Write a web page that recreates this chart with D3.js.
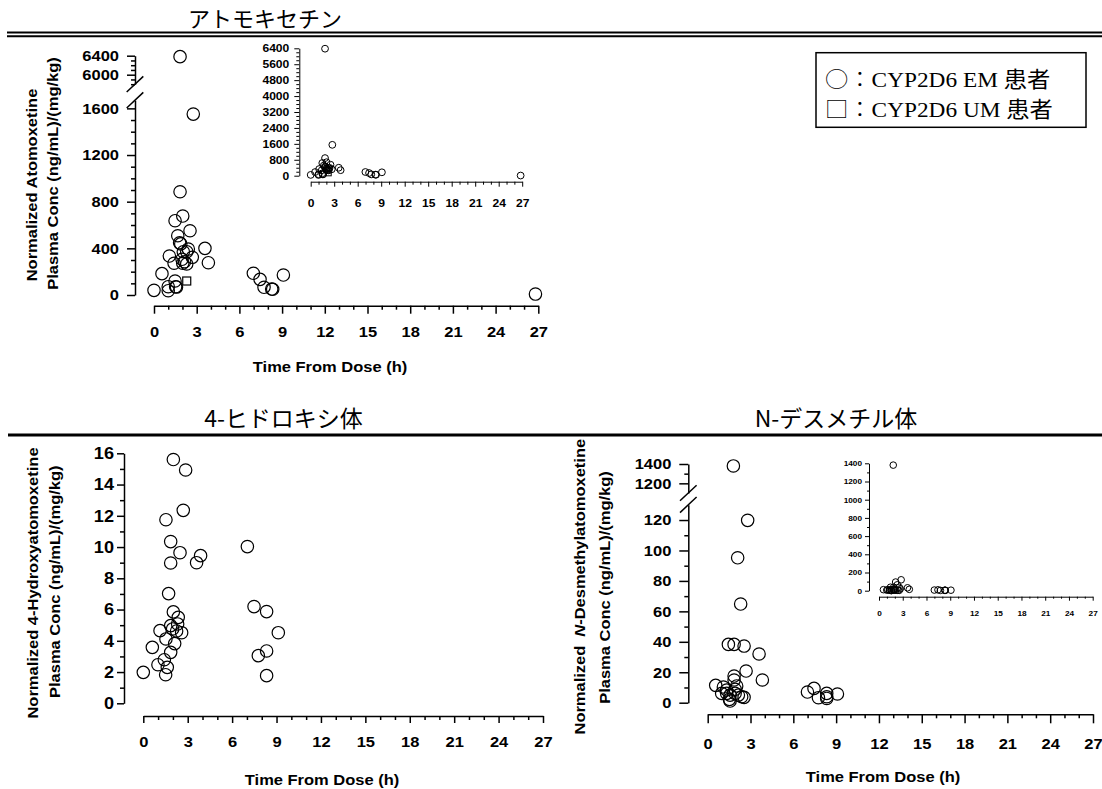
<!DOCTYPE html>
<html>
<head>
<meta charset="utf-8">
<script src="https://cdn.jsdelivr.net/npm/d3@7"></script>
<style>
body { margin: 0; background: #fff; }
svg { display: block; }
</style>
</head>
<body>
<svg width="1102" height="789"></svg>
<script>
// atomoxetine, CYP2D6 EM patients (time h, normalized conc)
var atoTime = [1.83, 2.76, 1.83, 2.02, 1.48, 2.53, 1.67, 1.80, 1.88, 3.58, 2.41, 2.30, 2.06, 1.08, 2.69, 1.97,
  2.15, 1.41, 3.82, 2.30, 2.02, 0.56, 1.48, 1.00, 1.52, 1.58, 0.00, 1.00, 6.98, 7.45, 7.73, 8.27, 8.34, 9.09, 26.8];
var atoConc = [6380, 1551, 885, 677, 637, 551, 508, 448, 438, 400, 394, 371, 371, 334, 323, 306,
  285, 272, 277, 266, 272, 183, 120, 71, 71, 68, 40, 37, 186, 134, 66, 51, 49, 171, 8];
// atomoxetine, CYP2D6 UM patient
var atoUmTime = [2.30];
var atoUmConc = [120];

// 4-hydroxyatomoxetine
var hydTime = [2.03, 2.86, 2.70, 1.53, 1.85, 2.48, 1.85, 3.60, 3.87, 7.03, 1.71, 2.03, 2.36, 2.32, 1.85, 1.98,
  2.25, 2.59, 1.13, 1.53, 2.12, 0.61, 1.85, 1.42, 0.99, 1.62, 1.51, 0.00, 7.48, 8.33, 9.12, 8.33, 7.77, 8.33];
var hydConc = [15.6, 14.93, 12.35, 11.75, 10.35, 9.64, 8.98, 9.0, 9.45, 10.03, 7.02, 5.85, 5.5, 5.08, 4.97, 4.76,
  4.63, 4.52, 4.65, 4.12, 3.82, 3.58, 3.26, 2.79, 2.47, 2.30, 1.83, 1.98, 6.19, 5.87, 4.52, 3.35, 3.05, 1.77];

// N-desmethylatomoxetine
var desTime = [1.80, 2.80, 2.10, 2.31, 1.45, 1.85, 2.55, 3.60, 2.69, 3.83, 1.85, 1.85, 0.56, 1.10, 2.03, 0.98,
  1.33, 1.57, 1.92, 2.15, 2.38, 2.55, 1.52, 1.57, 1.33, 1.92, 6.99, 7.45, 7.76, 8.34, 8.34, 8.34, 9.09];
var desConc = [1380, 119.8, 95.2, 64.8, 38.3, 38.3, 37.2, 32.0, 20.8, 14.9, 17.5, 14.9, 11.4, 10.3, 11.0, 6.1,
  6.1, 5.0, 6.1, 5.0, 3.9, 3.5, 2.2, 1.1, 8.3, 8.8, 7.0, 9.4, 3.3, 6.1, 3.9, 2.8, 5.7];

// tick values
var timeTicks = [0, 3, 6, 9, 12, 15, 18, 21, 24, 27];
var timeMinor = [1, 2, 4, 5, 7, 8, 10, 11, 13, 14, 16, 17, 19, 20, 22, 23, 25, 26];
var atoTicksLow = [0, 400, 800, 1200, 1600];
var atoMinorLow = [100, 200, 300, 500, 600, 700, 900, 1000, 1100, 1300, 1400, 1500];
var atoTicksHigh = [6000, 6400];
var atoMinorHigh = [5800, 5900, 6100, 6200, 6300];
var atoInsetTicks = [0, 800, 1600, 2400, 3200, 4000, 4800, 5600, 6400];
var atoInsetMinor = [200, 400, 600, 1000, 1200, 1400, 1800, 2000, 2200, 2600, 2800, 3000, 3400, 3600, 3800,
  4200, 4400, 4600, 5000, 5200, 5400, 5800, 6000, 6200];
var hydTicks = [0, 2, 4, 6, 8, 10, 12, 14, 16];
var hydMinor = [1, 3, 5, 7, 9, 11, 13, 15];
var desTicksLow = [0, 20, 40, 60, 80, 100, 120];
var desMinorLow = [10, 30, 50, 70, 90, 110];
var desTicksHigh = [1200, 1400];
var desMinorHigh = [1300];
var desInsetTicks = [0, 200, 400, 600, 800, 1000, 1200, 1400];
var desInsetMinor = [100, 300, 500, 700, 900, 1100, 1300];

var SANS = '"Liberation Sans", Arial, Helvetica, sans-serif';
var CJK = '"Noto Sans CJK JP", "Noto Sans", sans-serif';
var SERIF = '"Liberation Serif", "Times New Roman", serif';
var SX = 1.1; // the source glyphs are a bit wider than Arial

var svg = d3.select('svg');

// widen a text horizontally around its own anchor
function stretch(sel, sx) {
  sel.each(function () {
    var t = d3.select(this);
    var x = +t.attr('x') || 0;
    var y = +t.attr('y') || 0;
    t.attr('transform', 'translate(' + x + ',' + y + ') scale(' + sx + ',1) translate(' + (-x) + ',' + (-y) + ')');
  });
}

function label(str, x, y, o) {
  return svg.append('text')
    .attr('transform', 'translate(' + x + ',' + y + ')' + (o.rot ? ' rotate(' + o.rot + ')' : '') +
      ' scale(' + (o.sx || 1) + ',1)')
    .attr('text-anchor', o.anchor || 'middle')
    .attr('font-family', o.family || SANS)
    .attr('font-weight', o.weight || 'bold')
    .attr('font-size', o.size)
    .attr('fill', '#000')
    .text(str);
}

function styleAxis(g, t, fs) {
  g.selectAll('path.domain').attr('stroke', '#000').attr('stroke-width', t.sw);
  g.selectAll('.tick line').attr('stroke', '#000').attr('stroke-width', t.sw);
  g.selectAll('.tick text')
    .attr('font-family', SANS).attr('font-weight', 'bold')
    .attr('font-size', fs).attr('fill', '#000');
  stretch(g.selectAll('.tick text'), SX);
}

var fmt = d3.format('d');

function drawPanel(o) {
  var g = svg.append('g');
  var t = o.tick;
  var x = d3.scaleLinear().domain([0, 27]).range(o.xRange);
  var ys = o.yParts.map(function (p) {
    return d3.scaleLinear().domain(p.domain).range(p.range);
  });
  function yOf(v) {
    for (var i = ys.length - 1; i > 0; i -= 1)
      if (v >= ys[i].domain()[0]) return ys[i](v);
    return ys[0](v);
  }

  // x axis
  var xg = g.append('g').attr('transform', 'translate(0,' + o.xAxisY + ')');
  xg.append('g')
    .call(d3.axisBottom(x).tickValues(timeMinor).tickSize(t.minor).tickFormat('').tickSizeOuter(0))
    .call(function (s) { s.select('.domain').remove(); });
  xg.append('g')
    .call(d3.axisBottom(x).tickValues(timeTicks).tickFormat(fmt)
      .tickSize(t.major).tickPadding(t.padX).tickSizeOuter(0));
  styleAxis(xg, t, t.fs);

  // y axis, one piece per segment
  var yg = g.append('g').attr('transform', 'translate(' + o.yAxisX + ',0)');
  o.yParts.forEach(function (p, i) {
    yg.append('g')
      .call(d3.axisLeft(ys[i]).tickValues(p.minor).tickSize(t.minor).tickFormat('').tickSizeOuter(0))
      .call(function (s) { s.select('.domain').remove(); });
    yg.append('g')
      .call(d3.axisLeft(ys[i]).tickValues(p.major).tickFormat(fmt)
        .tickSize(t.major).tickPadding(t.padY).tickSizeOuter(0));
  });
  styleAxis(yg, t, t.fsY || t.fs);

  // break marks
  if (ys.length > 1) {
    var marks = [ys[1].range()[0], ys[0].range()[1]];
    g.append('g').selectAll('line').data(marks).join('line')
      .attr('x1', o.yAxisX - o.brk).attr('y1', function (d) { return d + o.brk * 0.94; })
      .attr('x2', o.yAxisX + o.brk).attr('y2', function (d) { return d - o.brk * 0.94; })
      .attr('stroke', '#000').attr('stroke-width', t.sw);
  }

  // points
  g.append('g').selectAll('circle').data(d3.range(o.times.length)).join('circle')
    .attr('cx', function (i) { return x(o.times[i]); })
    .attr('cy', function (i) { return yOf(o.concs[i]); })
    .attr('r', o.r)
    .attr('fill', 'none').attr('stroke', '#000').attr('stroke-width', o.pw);

  if (o.umTimes) {
    g.append('g').selectAll('rect').data(d3.range(o.umTimes.length)).join('rect')
      .attr('x', function (i) { return x(o.umTimes[i]) - o.sq / 2; })
      .attr('y', function (i) { return yOf(o.umConcs[i]) - o.sq / 2; })
      .attr('width', o.sq).attr('height', o.sq)
      .attr('fill', 'none').attr('stroke', '#000').attr('stroke-width', o.pw);
  }
}

// title rules
svg.append('line').attr('x1', 7).attr('x2', 1102).attr('y1', 32.5).attr('y2', 32.5)
  .attr('stroke', '#000').attr('stroke-width', 2);
svg.append('line').attr('x1', 7).attr('x2', 1102).attr('y1', 36.3).attr('y2', 36.3)
  .attr('stroke', '#000').attr('stroke-width', 2);
svg.append('line').attr('x1', 8).attr('x2', 1102).attr('y1', 435).attr('y2', 435)
  .attr('stroke', '#000').attr('stroke-width', 3);

label('アトモキセチン', 265, 27, { size: 22, family: CJK, weight: 'normal' });
label('4-ヒドロキシ体', 283.5, 427, { size: 23, family: CJK, weight: 'normal' });
label('N-デスメチル体', 836, 427, { size: 23, family: CJK, weight: 'normal' });

// atomoxetine main
drawPanel({
  xRange: [154, 538.3], xAxisY: 305.7, yAxisX: 135,
  yParts: [
    { domain: [0, 1670], range: [295, 100.2], major: atoTicksLow, minor: atoMinorLow },
    { domain: [5800, 6400], range: [84.2, 55.7], major: atoTicksHigh, minor: atoMinorHigh }
  ],
  tick: { major: 8, minor: 4, padX: 13, padY: 8, fs: 15, sw: 1.5 },
  times: atoTime, concs: atoConc, umTimes: atoUmTime, umConcs: atoUmConc,
  r: 6.2, pw: 1.2, sq: 8, brk: 8.3
});

// atomoxetine inset
drawPanel({
  xRange: [310.7, 522.2], xAxisY: 181.7, yAxisX: 299.3,
  yParts: [{ domain: [0, 6400], range: [175.7, 48.3], major: atoInsetTicks, minor: atoInsetMinor }],
  tick: { major: 5, minor: 3, padX: 12.5, padY: 5, fs: 11, sw: 1 },
  times: atoTime, concs: atoConc, umTimes: atoUmTime, umConcs: atoUmConc,
  r: 3.4, pw: 1, sq: 5
});

// 4-hydroxy
drawPanel({
  xRange: [143.3, 543], xAxisY: 716, yAxisX: 124,
  yParts: [{ domain: [0, 16], range: [703.3, 453.3], major: hydTicks, minor: hydMinor }],
  tick: { major: 7, minor: 4, padX: 13.6, padY: 3, fs: 15, fsY: 16.5, sw: 1.5 },
  times: hydTime, concs: hydConc, r: 6.2, pw: 1.2
});

// N-desmethyl main
drawPanel({
  xRange: [707.7, 1093], xAxisY: 714.3, yAxisX: 688.3,
  yParts: [
    { domain: [0, 130], range: [702.7, 504.8], major: desTicksLow, minor: desMinorLow },
    { domain: [1100, 1400], range: [493, 464], major: desTicksHigh, minor: desMinorHigh }
  ],
  tick: { major: 9, minor: 4, padX: 15.4, padY: 8, fs: 15, sw: 1.5 },
  times: desTime, concs: desConc, r: 6.2, pw: 1.2, brk: 8.3
});

// N-desmethyl inset
drawPanel({
  xRange: [879, 1092.7], xAxisY: 596.7, yAxisX: 869,
  yParts: [{ domain: [0, 1400], range: [590.7, 463.3], major: desInsetTicks, minor: desInsetMinor }],
  tick: { major: 4, minor: 2, padX: 10, padY: 3, fs: 7.5, sw: 1 },
  times: desTime, concs: desConc, r: 3.3, pw: 1
});

// axis titles
label('Time From Dose (h)', 330, 372, { size: 15, sx: SX });
label('Time From Dose (h)', 322, 785, { size: 15, sx: SX });
label('Time From Dose (h)', 883, 782, { size: 15, sx: SX });

label('Normalized Atomoxetine', 36.7, 185, { size: 15, sx: SX, rot: -90 });
label('Plasma Conc (ng/mL)/(mg/kg)', 58.3, 173.5, { size: 15, sx: SX, rot: -90 });
label('Normalized 4-Hydroxyatomoxetine', 38.3, 583, { size: 15, sx: SX, rot: -90 });
label('Plasma Conc (ng/mL)/(mg/kg)', 60, 581.7, { size: 15, sx: SX, rot: -90 });
var desTitle = label('', 585, 586.7, { size: 15, sx: SX, rot: -90 });
desTitle.append('tspan').text('Normalized ');
desTitle.append('tspan').attr('dx', 4).attr('font-style', 'italic').text('N');
desTitle.append('tspan').text('-Desmethylatomoxetine');
label('Plasma Conc (ng/mL)/(mg/kg)', 610, 587.5, { size: 15, sx: SX, rot: -90 });

// legend
svg.append('rect').attr('x', 816).attr('y', 52.7).attr('width', 270).attr('height', 74.6)
  .attr('fill', 'none').attr('stroke', '#000').attr('stroke-width', 1.5);
[['○', 'EM', 86.5], ['□', 'UM', 116.5]].forEach(function (row) {
  var t = label('', 825, row[2], { size: 22, sx: 1.06, anchor: 'start', family: SERIF, weight: 'normal' });
  t.append('tspan').attr('font-family', CJK).attr('font-weight', 300).text(row[0] + '：');
  t.append('tspan').text('CYP2D6 ' + row[1] + ' ');
  t.append('tspan').attr('font-family', CJK).text('患者');
});
</script>
</body>
</html>
